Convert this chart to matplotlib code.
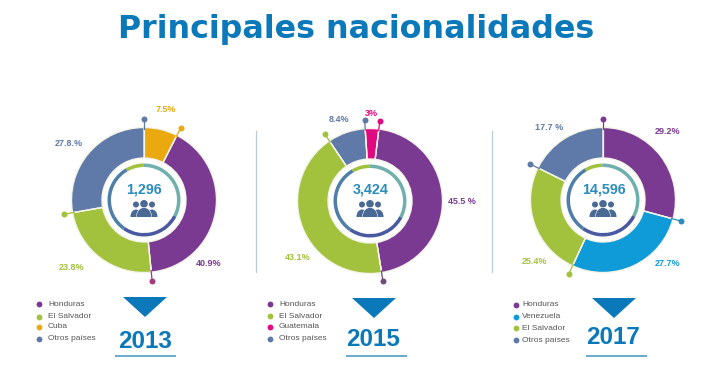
import numpy as np
import matplotlib
matplotlib.use("Agg")
import matplotlib.pyplot as plt
from matplotlib.patches import Circle, Ellipse, Polygon

W, H = 725, 381
plt.rcParams['font.family'] = ['Liberation Sans', 'DejaVu Sans']

PURPLE = '#7b3a92'; GREEN = '#a2c13c'; YELLOW = '#e9a90f'; SLATE = '#5f7aa8'
PINK = '#e0097f'; SKY = '#0f9ad8'; BLUE = '#0b78ba'; TEAL = '#2a8dbd'

title = "Principales nacionalidades"
years = ["2013", "2015", "2017"]
totals = ["1,296", "3,424", "14,596"]

countries_2013 = ["Cuba", "Honduras", "El Salvador", "Otros países"]
values_2013 = [7.5, 40.9, 23.8, 27.8]
labels_2013 = ["7.5%", "40.9%", "23.8%", "27.8.%"]
legend_2013 = ["Honduras", "El Salvador", "Cuba", "Otros países"]

countries_2015 = ["Honduras", "El Salvador", "Otros países", "Guatemala"]
values_2015 = [45.5, 43.1, 8.4, 3.0]
labels_2015 = ["45.5 %", "43.1%", "8.4%", "3%"]
legend_2015 = ["Honduras", "El Salvador", "Guatemala", "Otros países"]

countries_2017 = ["Honduras", "Venezuela", "El Salvador", "Otros países"]
values_2017 = [29.2, 27.7, 25.4, 17.7]
labels_2017 = ["29.2%", "27.7%", "25.4%", "17.7 %"]
legend_2017 = ["Honduras", "Venezuela", "El Salvador", "Otros países"]

COL = {"Cuba": YELLOW, "Honduras": PURPLE, "El Salvador": GREEN, "Otros países": SLATE,
       "Guatemala": PINK, "Venezuela": SKY}

panels = [
    dict(c=(144, 200), start=0, vals=values_2013, names=countries_2013, labels=labels_2013,
         lab=[(166, 110), (209, 263), (72, 268), (69, 144)], leg=legend_2013, year=years[0], total=totals[0],
         dots=[YELLOW, '#a23a80', GREEN, SLATE], tc=(144, 189), ic=(144, 208),
         tri=(145, 297), yr=(145, 341), ul=(115, 176), lx=(39, 48), ly=[304, 317, 327, 339]),
    dict(c=(370, 201), start=7, vals=values_2015, names=countries_2015, labels=labels_2015,
         lab=[(462, 201), (298, 258), (339, 119), (371, 113)], leg=legend_2015, year=years[1], total=totals[1],
         dots=['#6e4a80', GREEN, SLATE, PINK], tc=(371, 189), ic=(370, 208),
         tri=(374, 298), yr=(373, 340), ul=(346, 407), lx=(270, 279), ly=[304, 316, 327, 339]),
    dict(c=(603, 200), start=0, vals=values_2017, names=countries_2017, labels=labels_2017,
         lab=[(668, 131), (668, 263), (535, 261), (549, 127)], leg=legend_2017, year=years[2], total=totals[2],
         dots=[TEAL, GREEN, SLATE, PURPLE], tc=(604, 190), ic=(603, 208),
         tri=(614, 298), yr=(613, 338), ul=(586, 647), lx=(516, 522), ly=[305, 317, 328, 340]),
]

ring_shares = [8, 33, 27, 32]
ring_cols = ['#a2c13c', '#6fb0ac', '#4a5aa0', '#4f7fa8']

fig = plt.figure(figsize=(W / 100, H / 100), dpi=100, facecolor='white')
ax = fig.add_axes([0, 0, 1, 1])

def Y(y):
    return H - y

for p in panels:
    cx, cy = p['c']
    ax.pie(p['vals'], colors=[COL[n] for n in p['names']], center=(cx, Y(cy)), radius=72.5,
           startangle=90 - p['start'], counterclock=False, frame=True,
           wedgeprops=dict(width=30.5, edgecolor='#f4f4e8', linewidth=1.0))
    ax.pie(ring_shares, colors=ring_cols, center=(cx, Y(cy)), radius=36.5,
           startangle=90 + 30, counterclock=False, frame=True,
           wedgeprops=dict(width=3.5, linewidth=0))
    # leader lines
    ang = p['start'] + 3.6 * np.cumsum(p['vals'])
    for a, dc in zip(ang, p['dots']):
        t = np.deg2rad(a)
        ux, uy = np.sin(t), np.cos(t)
        ax.plot([cx + 42 * ux, cx + 81 * ux], [Y(cy) + 42 * uy, Y(cy) + 81 * uy],
                color='#f4f4e8', lw=0.9, zorder=4)
        ax.plot([cx + 71 * ux, cx + 81 * ux], [Y(cy) + 71 * uy, Y(cy) + 81 * uy],
                color=dc, lw=0.9, zorder=4)
        ax.plot(cx + 81 * ux, Y(cy) + 81 * uy, 'o', color=dc, ms=4.3, mew=0, zorder=5)
    # percentage labels
    for txt, (lx, ly), n in zip(p['labels'], p['lab'], p['names']):
        ax.text(lx, Y(ly), txt, color=COL[n], fontsize=6.5, fontweight='bold',
                ha='center', va='center')
    # total
    ax.text(p['tc'][0], Y(p['tc'][1]), p['total'], color=TEAL, fontsize=10.3, fontweight='bold',
            ha='center', va='center')
    # people icon
    ix, iy = p['ic'][0], Y(p['ic'][1])
    ic = '#4a6a95'
    for dx, r, oy in [(-8, 3.0, 3.5), (8, 3.0, 3.5), (0, 3.8, 4.2)]:
        ax.add_patch(Circle((ix + dx, iy + oy), r, fc=ic, ec='none', zorder=6))
    for dx, w, h in [(-8, 11, 14), (8, 11, 14), (0, 15, 18)]:
        ax.add_patch(Ellipse((ix + dx, iy - 8.5), w, h, fc=ic, ec='white' if dx == 0 else 'none', lw=0.4,
                             zorder=7 if dx == 0 else 6))
    ax.add_patch(Polygon([(ix - 16, iy - 8.5), (ix + 16, iy - 8.5), (ix + 16, iy - 18), (ix - 16, iy - 18)],
                         fc='white', ec='none', zorder=8))
    # triangle, year, underline
    tx, ty = p['tri']
    ax.add_patch(Polygon([(tx - 22, Y(ty)), (tx + 22, Y(ty)), (tx, Y(ty + 20))], fc=BLUE, ec='none'))
    ax.text(p['yr'][0], Y(p['yr'][1]), p['year'], color=BLUE, fontsize=17.5, fontweight='bold',
            ha='center', va='center')
    ax.plot(p['ul'], [Y(356), Y(356)], color='#4f9cc4', lw=1.2, solid_capstyle='butt')
    # legend
    for nm, ly in zip(p['leg'], p['ly']):
        ax.plot(p['lx'][0], Y(ly), 'o', color=COL[nm], ms=4.2, mew=0)
        ax.text(p['lx'][1], Y(ly), nm, color='#555555', fontsize=6.0, ha='left', va='center')

for x in (256, 492):
    ax.plot([x, x], [Y(131), Y(272)], color='#b9cbd6', lw=0.9)

ax.text(356, Y(37.7), title, color=BLUE, fontsize=22.9, fontweight='bold', family='DejaVu Sans',
        ha='center', va='baseline')

ax.set_xlim(0, W)
ax.set_ylim(0, H)
ax.set_aspect('auto')
ax.axis('off')
fig.savefig('out.png', dpi=100, facecolor='white')
